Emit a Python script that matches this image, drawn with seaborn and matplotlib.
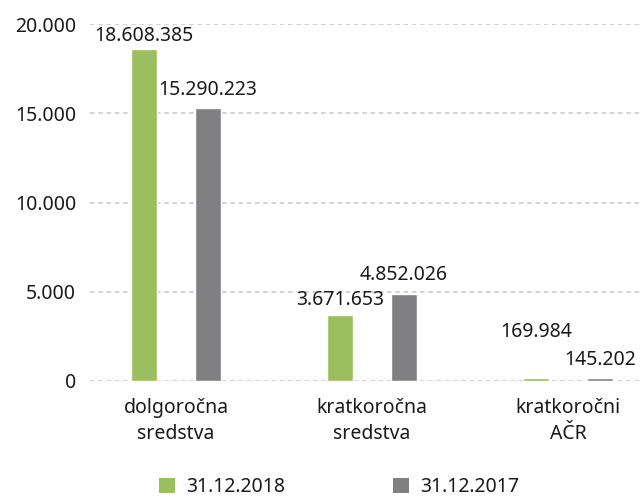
import pandas as pd
import numpy as np
import matplotlib.pyplot as plt
import seaborn as sns
from matplotlib.patches import Patch
from matplotlib.ticker import FuncFormatter

# data (EUR)
categories = ['dolgoročna\nsredstva', 'kratkoročna\nsredstva', 'kratkoročni\nAČR']
series = ['31.12.2018', '31.12.2017']
values_2018 = [18608385, 3671653, 169984]
values_2017 = [15290223, 4852026, 145202]
colors = ['#9bbe5e', '#808083']

def fmt_dots(v):
  return f"{int(round(v)):,}".replace(',', '.')

df = pd.DataFrame({
  'kategorija': categories * 2,
  'datum': [series[0]] * 3 + [series[1]] * 3,
  'vrednost': values_2018 + values_2017,
})
df['tisoc'] = df['vrednost'] / 1000

sns.set_style('white')
plt.rcParams['font.family'] = ['Noto Sans', 'DejaVu Sans']
plt.rcParams['text.color'] = '#1a1a1a'

fig = plt.figure(figsize=(6.4, 4.97), dpi=100)
ax = fig.add_axes([90 / 640, (497 - 381) / 497, 550 / 640, 357 / 497])

# dashed grid behind bars
for yv in [0, 5000, 10000, 15000, 20000]:
  ax.axhline(yv, color='#c8c8c8', lw=1.1, ls=(0, (3, 2.4)), zorder=0)

sns.barplot(data=df, x='kategorija', y='tisoc', hue='datum', hue_order=series,
            palette=colors, width=0.653, gap=0.59, ax=ax, legend=False,
            saturation=1, zorder=2)

# value labels above bars (padding in points, per bar)
pads = [[2, 4, 26], [6, 7, 6]]
for s_idx, container in enumerate(ax.containers):
  vals = values_2018 if s_idx == 0 else values_2017
  for b_idx, bar in enumerate(container):
    x = bar.get_x() + bar.get_width() / 2
    ax.annotate(fmt_dots(vals[b_idx]), (x, bar.get_height()),
                xytext=(0, pads[s_idx][b_idx]), textcoords='offset points',
                ha='center', va='bottom', fontsize=14, color='#1a1a1a')

ax.set_ylim(0, 20000)
ax.set_xlim(-0.439, 2.367)
ax.set_yticks([0, 5000, 10000, 15000, 20000])
ax.yaxis.set_major_formatter(FuncFormatter(lambda v, p: fmt_dots(v)))
ax.tick_params(axis='both', length=0, labelsize=14, colors='#1a1a1a')
ax.tick_params(axis='y', pad=10)
ax.tick_params(axis='x', pad=12)
for lab in ax.get_xticklabels():
  lab.set_linespacing(1.45)
ax.set_xlabel('')
ax.set_ylabel('')
sns.despine(ax=ax, left=True, bottom=True)

handles = [Patch(facecolor=c, edgecolor='none') for c in colors]
fig.legend(handles, series, loc='upper center', bbox_to_anchor=(0.53, 0.06),
           ncol=2, frameon=False, fontsize=14, handlelength=0.82, handleheight=0.82,
           handletextpad=0.6, columnspacing=5.5, borderpad=0)

fig.savefig('out.png', dpi=100)
